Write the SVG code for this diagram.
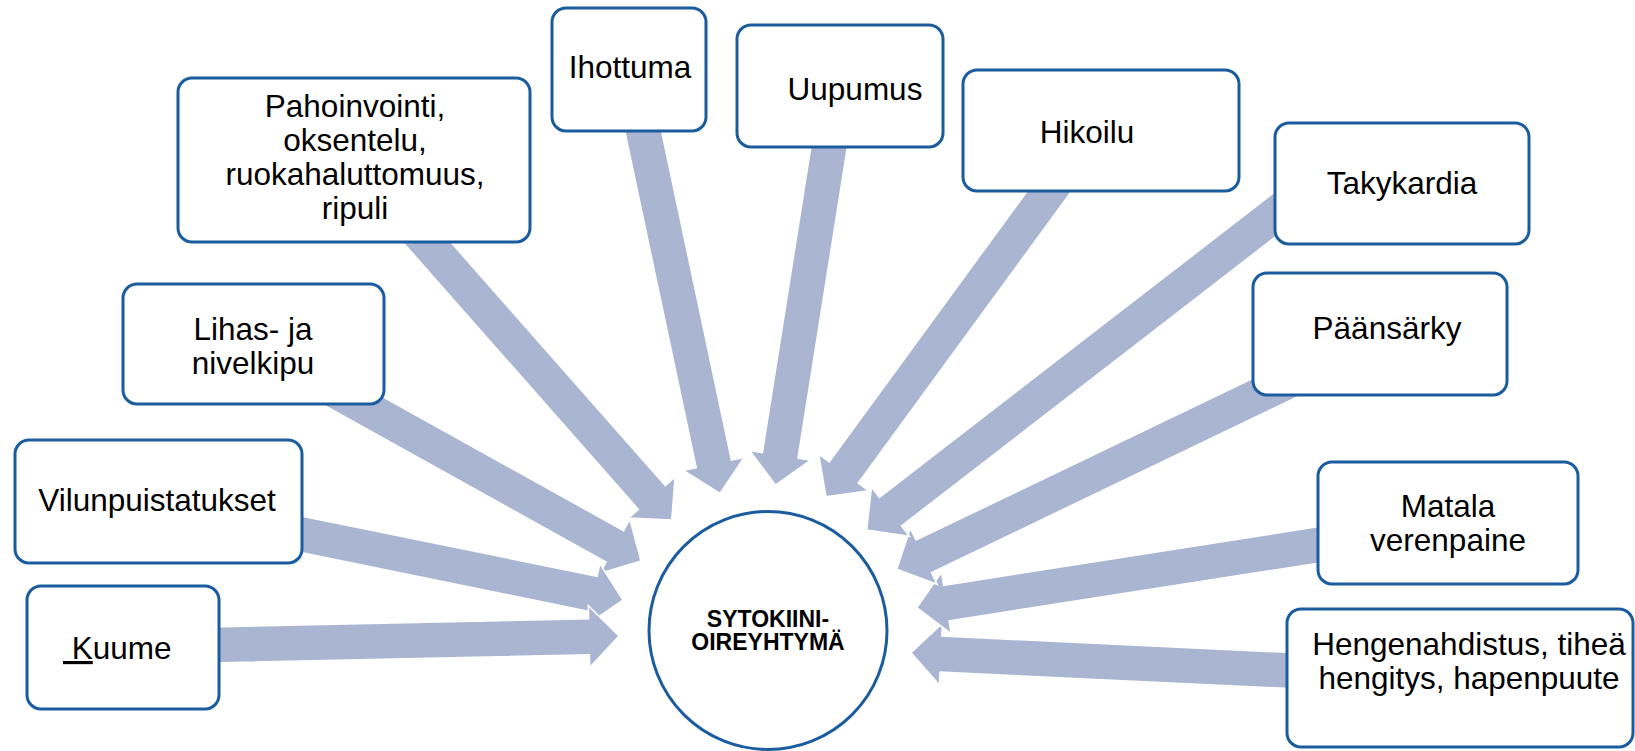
<svg xmlns="http://www.w3.org/2000/svg" width="1635" height="751" viewBox="0 0 1635 751">
<style>
.arr{fill:#AAB5D2;stroke:#FFFFFF;stroke-width:1.5;stroke-linejoin:miter}
.box{fill:#FFFFFF;stroke:#1A5C9E;stroke-width:3}
.t{font-family:"Liberation Sans",Arial,sans-serif;font-size:31.5px;fill:#000000;text-anchor:middle}
.c{font-family:"Liberation Sans",Arial,sans-serif;font-size:23px;font-weight:bold;fill:#000000;text-anchor:middle}
</style>
<rect width="1635" height="751" fill="#FFFFFF"/>
<g id="connectors">
<polygon class="arr" points="1300.9,653.0 941.8,636.1 942.4,623.1 911,652.7 939.5,685.1 940.1,672.1 1299.2,689.0"/>
<polygon class="arr" points="1326.8,525.3 943.6,585.3 941.5,572.4 916.7,607.7 951.1,633.7 949.1,620.8 1332.4,560.9"/>
<polygon class="arr" points="1292.2,359.5 916.0,540.1 910.3,528.4 896.7,569.3 937.2,584.3 931.5,572.6 1307.8,391.9"/>
<polygon class="arr" points="1279.8,188.1 879.4,497.4 871.5,487.1 866.7,530 909.4,536.2 901.5,525.9 1301.8,216.5"/>
<polygon class="arr" points="1045.3,166.3 829.2,461.9 818.7,454.2 826,496.7 868.7,490.8 858.2,483.1 1074.3,187.5"/>
<polygon class="arr" points="814.3,125.4 762.4,452.6 749.6,450.5 775.5,485 810.8,460.2 798.0,458.2 849.9,131.0"/>
<polygon class="arr" points="622.6,120.7 696.2,467.7 683.4,470.4 720,493.3 744.1,457.5 731.4,460.2 657.8,113.3"/>
<polygon class="arr" points="427.8,216.1 665.4,485.6 675.1,477.0 671.7,520 628.6,518.0 638.4,509.4 400.8,239.9"/>
<polygon class="arr" points="338.8,372.3 623.6,530.7 629.9,519.3 641,561 599.7,573.5 606.1,562.1 321.3,403.7"/>
<polygon class="arr" points="293.6,514.4 597.2,576.4 599.8,563.6 623,600 587.4,624.4 590.0,611.6 286.4,549.6"/>
<polygon class="arr" points="209.6,627.0 588.6,618.7 588.3,605.7 619,636 589.7,667.6 589.4,654.7 210.4,663.0"/>
</g>
<g id="center">
<circle cx="768" cy="630.5" r="119" fill="#FFFFFF" stroke="#1A5C9E" stroke-width="3"/>
<text class="c" x="768" y="627">SYTOKIINI-</text>
<text class="c" x="768" y="650">OIREYHTYMÄ</text>
</g>
<g id="kuume">
<rect class="box" x="27" y="586" width="192" height="123" rx="14"/>
<text class="t" x="63" y="659" style="text-anchor:start" xml:space="preserve"><tspan text-decoration="underline"> K</tspan>uume</text>
</g>
<g id="vilunpuistatukset">
<rect class="box" x="15" y="440" width="287" height="123" rx="14"/>
<text class="t" x="157" y="511">Vilunpuistatukset</text>
</g>
<g id="lihas">
<rect class="box" x="123" y="284" width="261" height="120" rx="14"/>
<text class="t" x="253" y="340">Lihas- ja</text>
<text class="t" x="253" y="374">nivelkipu</text>
</g>
<g id="pahoinvointi">
<rect class="box" x="178" y="78" width="352" height="164" rx="14"/>
<text class="t" x="355" y="117">Pahoinvointi,</text>
<text class="t" x="355" y="151">oksentelu,</text>
<text class="t" x="355" y="185">ruokahaluttomuus,</text>
<text class="t" x="355" y="219">ripuli</text>
</g>
<g id="ihottuma">
<rect class="box" x="552" y="8" width="154" height="123" rx="14"/>
<text class="t" x="630" y="78">Ihottuma</text>
</g>
<g id="uupumus">
<rect class="box" x="737" y="25" width="206" height="122" rx="14"/>
<text class="t" x="855" y="100">Uupumus</text>
</g>
<g id="hikoilu">
<rect class="box" x="963" y="70" width="276" height="121" rx="14"/>
<text class="t" x="1087" y="143">Hikoilu</text>
</g>
<g id="takykardia">
<rect class="box" x="1275" y="123" width="254" height="121" rx="14"/>
<text class="t" x="1402" y="194">Takykardia</text>
</g>
<g id="paansarky">
<rect class="box" x="1253" y="273" width="254" height="122" rx="14"/>
<text class="t" x="1387" y="339">Päänsärky</text>
</g>
<g id="matala">
<rect class="box" x="1318" y="462" width="260" height="122" rx="14"/>
<text class="t" x="1448" y="517">Matala</text>
<text class="t" x="1448" y="551">verenpaine</text>
</g>
<g id="hengenahdistus">
<rect class="box" x="1287" y="609" width="346" height="138" rx="14"/>
<text class="t" x="1469" y="655">Hengenahdistus, tiheä</text>
<text class="t" x="1469" y="689">hengitys, hapenpuute</text>
</g>
</svg>
